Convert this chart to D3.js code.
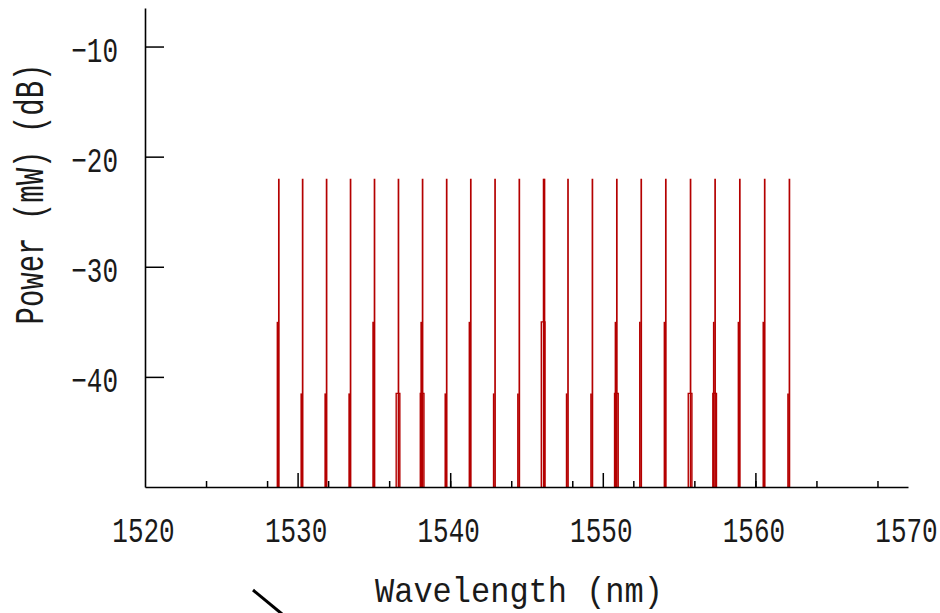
<!DOCTYPE html>
<html>
<head>
    <meta charset="utf-8">
    <title>Spectrum</title>
    <script src="https://d3js.org/d3.v7.min.js"></script>
    <style>
        body { margin: 0; background: #fff; }
    </style>
</head>
<body>
<div id="chart"></div>
<script type="text/javascript">
    // channel grid (nm) and peak levels (dB)
    const channelNm = [1528.77, 1530.33, 1531.90, 1533.47, 1535.04, 1536.61, 1538.19, 1539.77,
                       1541.35, 1542.94, 1544.53, 1546.12, 1547.72, 1549.32, 1550.92, 1552.52,
                       1554.13, 1555.75, 1557.36, 1558.98, 1560.61, 1562.23];
    const peakDb = [-22, -22, -22, -22, -22, -22, -22, -22, -22, -22, -22,
                    -22, -22, -22, -22, -22, -22, -22, -22, -22, -22, -22];
    // second line just left of the peak
    const sideDb = [-35, -41.5, -41.5, -41.5, -35, null, -35, -41.5, -35, -41.5, -41.5,
                    null, -41.5, -41.5, -35, -35, -35, null, -35, -35, -35, -41.5];
    // split (double) line under the peak
    const splitDb = [null, null, null, null, null, -41.5, -41.5, null, null, null, null,
                     -35, null, null, -41.5, null, null, -41.5, -41.5, null, null, null];
    // channel with a doubled top line
    const doublePeak = [1546.12];

    const xLabels = [1520, 1530, 1540, 1550, 1560, 1570];
    const xMajor = [1530, 1540, 1550, 1560];
    const xMinor = [1524, 1528, 1532, 1536, 1540, 1544, 1548, 1552, 1556, 1560, 1564, 1568];
    const yTicks = [-10, -20, -30, -40];

    let width = 940, height = 613;
    let margin = {top: 8, right: 32, bottom: 126, left: 145};
    let w = width - margin.left - margin.right;
    let h = height - margin.top - margin.bottom;

    let font = "'Liberation Mono', 'Courier New', monospace";
    let ink = "#1a1a1a";

    let svg = d3.select("#chart")
            .append("svg")
                .attr("width", width)
                .attr("height", height);

    let g = svg.append("g")
            .attr("transform", "translate(" + margin.left + "," + margin.top + ")");

    let x = d3.scaleLinear().domain([1520, 1570]).range([0, w]);
    let y = d3.scaleLinear().domain([-50, -6.5]).range([h, 0]);

    // spectrum lines
    let base = y(-50);
    let red = "#b40000";
    let lines = g.append("g")
            .attr("fill", "none")
            .attr("stroke", red)
            .attr("stroke-width", 1.7);

    channelNm.forEach(function(nm, i){
        lines.append("path")
            .attr("d", "M" + x(nm) + "," + base + "V" + y(peakDb[i]));
        if (sideDb[i] !== null) {
            lines.append("path")
                .attr("d", "M" + x(nm - 0.09) + "," + base + "V" + y(sideDb[i]));
        }
        if (splitDb[i] !== null) {
            lines.append("path")
                .attr("stroke-width", 1.4)
                .attr("d", "M" + x(nm - 0.15) + "," + base + "V" + y(splitDb[i]) +
                           "H" + x(nm + 0.09) + "V" + base);
        }
    });
    doublePeak.forEach(function(nm){
        let k = channelNm.indexOf(nm);
        lines.append("path")
            .attr("d", "M" + x(nm + 0.06) + "," + base + "V" + y(peakDb[k]));
    });

    // x axis: minor and major ticks point inward, labels separately
    g.append("g")
        .attr("transform", "translate(0," + h + ")")
        .call(d3.axisBottom(x).tickValues(xMinor).tickSizeInner(-6).tickSizeOuter(0).tickFormat(""))
        .call(function(a){ a.select(".domain").remove(); })
        .selectAll("line").attr("stroke", "#000").attr("stroke-width", 1.5);

    g.append("g")
        .attr("transform", "translate(0," + h + ")")
        .call(d3.axisBottom(x).tickValues(xMajor).tickSizeInner(-14).tickSizeOuter(0).tickFormat(""))
        .call(function(a){ a.select(".domain").remove(); })
        .selectAll("line").attr("stroke", "#000").attr("stroke-width", 1.5);

    let xAxis = g.append("g")
        .attr("transform", "translate(0," + h + ")")
        .call(d3.axisBottom(x).tickValues(xLabels).tickSize(0).tickFormat(d3.format("d")));
    xAxis.select(".domain").attr("stroke", "#000").attr("stroke-width", 1.6);
    xAxis.selectAll("text")
        .attr("y", 0).attr("dy", 0)
        .attr("transform", "translate(-2,55) scale(1,1.35)")
        .attr("font-family", font)
        .attr("font-size", 26)
        .attr("fill", ink);

    // y axis
    let yAxis = g.append("g")
        .call(d3.axisLeft(y).tickValues(yTicks).tickSizeInner(-19).tickSizeOuter(0).tickFormat(d3.format("d")));
    yAxis.select(".domain").attr("stroke", "#000").attr("stroke-width", 1.6);
    yAxis.selectAll("line").attr("stroke", "#000").attr("stroke-width", 1.5);
    yAxis.selectAll("text")
        .attr("x", -27).attr("dy", 0)
        .attr("text-anchor", "end")
        .attr("transform", "translate(0,15) scale(1,1.35)")
        .attr("font-family", font)
        .attr("font-size", 26)
        .attr("fill", ink);

    // axis titles
    svg.append("text")
        .attr("transform", "translate(519,602) scale(1,1.1)")
        .attr("text-anchor", "middle")
        .attr("font-family", font)
        .attr("font-size", 32)
        .attr("fill", ink)
        .text("Wavelength (nm)");

    svg.append("text")
        .attr("transform", "translate(43,194) rotate(-90) scale(1,1.4)")
        .attr("text-anchor", "middle")
        .attr("font-family", font)
        .attr("font-size", 29)
        .attr("fill", ink)
        .text("Power (mW) (dB)");

    // stray pointer stroke at the bottom
    svg.append("line")
        .attr("x1", 253).attr("y1", 590)
        .attr("x2", 282).attr("y2", 614)
        .attr("stroke", "#000")
        .attr("stroke-width", 3);
</script>
</body>
</html>
